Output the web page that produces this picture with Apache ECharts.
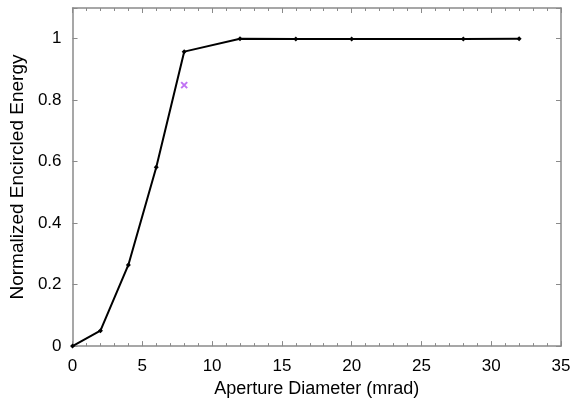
<!DOCTYPE html>
<html><head><meta charset="utf-8">
<script src="https://cdn.jsdelivr.net/npm/echarts@6/dist/echarts.min.js"></script>
<style>html,body{margin:0;padding:0;background:#fff}#c{width:581px;height:403px}</style>
</head><body><div id="c"></div>
<script>
var aperture = [0, 2, 4, 6, 8, 12, 16, 20, 28, 32];
var energy = [0, 0.05, 0.264, 0.582, 0.958, 1.0, 0.999, 0.999, 0.999, 1.0];
var markerX = [8];
var markerY = [0.849];
var xLabel = 'Aperture Diameter (mrad)';
var yLabel = 'Normalized Encircled Energy';

var font = 'Liberation Sans, Arial, Helvetica, sans-serif';
var axisColor = '#8a8a8a';
function frameAxis(extra) {
  var base = {
    axisLine: {show: true, onZero: false, lineStyle: {color: axisColor, width: 1.5}},
    axisTick: {show: true, inside: true, length: 5, lineStyle: {color: axisColor}},
    splitLine: {show: false}
  };
  for (var k in extra) base[k] = extra[k];
  return base;
}
function minorAxis(pos) {
  return {
    type: 'value', min: 0, max: 35, interval: 1, position: pos,
    axisLine: {show: false, onZero: false},
    axisTick: {show: true, inside: true, length: 3, lineStyle: {color: axisColor}},
    axisLabel: {show: false},
    splitLine: {show: false}
  };
}
var chart = echarts.init(document.getElementById('c'));
chart.setOption({
  animation: false,
  grid: {left: 70, right: 20, top: 8, bottom: 54, containLabel: false},
  xAxis: [minorAxis('bottom'), minorAxis('top'), frameAxis({
    type: 'value', min: 0, max: 35, interval: 5, position: 'bottom',
    name: xLabel, nameLocation: 'middle', nameGap: 31,
    nameTextStyle: {color: '#000', fontSize: 18, fontFamily: font},
    axisLabel: {color: '#000', fontSize: 17, fontFamily: font, margin: 12}
  }), frameAxis({
    type: 'value', min: 0, max: 35, interval: 5, position: 'top',
    axisLabel: {show: false}
  })],
  yAxis: [frameAxis({
    type: 'value', min: 0, max: 1.1, interval: 0.2, position: 'left',
    name: yLabel, nameLocation: 'middle', nameGap: 42,
    nameTextStyle: {color: '#000', fontSize: 19, fontFamily: font},
    axisLabel: {color: '#000', fontSize: 17, fontFamily: font, margin: 11,
      formatter: function(v){ return (Math.abs(v-1.1)<1e-6) ? '' : String(+v.toFixed(1)); }}
  }), frameAxis({
    type: 'value', min: 0, max: 1.1, interval: 0.2, position: 'right',
    axisLabel: {show: false}
  })],
  series: [{
    type: 'line',
    xAxisIndex: 2, yAxisIndex: 0,
    data: aperture.map(function(x, i){ return [x, energy[i]]; }),
    lineStyle: {color: '#000', width: 2},
    itemStyle: {color: '#000'},
    symbol: 'diamond', symbolSize: 5, showSymbol: true
  }, {
    type: 'scatter',
    xAxisIndex: 2, yAxisIndex: 0,
    data: markerX.map(function(x, i){ return [x, markerY[i]]; }),
    symbol: 'path://M0,0 L2,2 M2,0 L0,2',
    symbolSize: 6,
    itemStyle: {color: 'none', borderColor: '#b050f0', borderWidth: 2}
  }]
});
</script></body></html>
